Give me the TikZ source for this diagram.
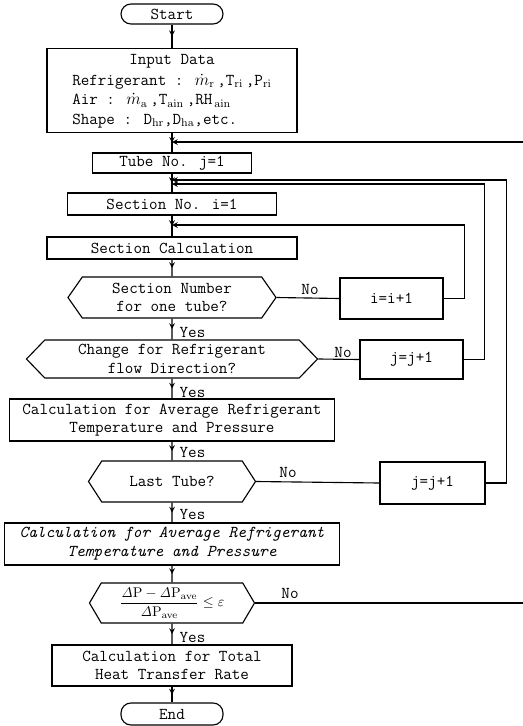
\documentclass[tikz,border=0pt]{standalone}
\usetikzlibrary{shapes.symbols, arrows, decorations.markings}

\begin{document}
\begin{tikzpicture}[x=0.025cm, y=-0.025cm, font=\fontsize{11.8}{13.3}\selectfont\ttfamily]
    \tikzstyle{block} = [rectangle, draw, line width=0.8pt, inner sep=2pt, align=center]
    \tikzstyle{decision} = [signal, signal to=west and east, draw, line width=0.8pt, inner sep=1pt, align=center]
    \tikzstyle{terminal} = [rectangle, rounded corners=0.25cm, draw, line width=0.8pt, minimum width=2.55cm, minimum height=0.5cm, inner sep=1pt]
    \tikzstyle{flow} = [line width=0.8pt, postaction={decorate}, decoration={markings, mark=at position 0.5 with {\arrow{stealth}}}]
    \tikzstyle{arrow} = [line width=0.8pt, ->, >=stealth]
    \tikzstyle{answer} = [inner sep=1pt]

    \useasboundingbox (0,0) rectangle (522,726);

    \node[terminal] (start) at (172,14) {Start};
    \node[block, minimum width=6.25cm, minimum height=2.025cm] (input) at (172,90.5) {\begin{tabular}{@{}l@{}}
        \multicolumn{1}{c}{Input Data}\\[1.5pt]
        Refrigerant : $\dot{m}_{\mathrm{r}}$\,,T$_{\mathrm{ri}}$\,,P$_{\mathrm{ri}}$\\[0.5pt]
        Air : $\dot{m}_{\mathrm{a}}$\,,T$_{\mathrm{ain}}$\,,RH$_{\,\mathrm{ain}}$\\[0.5pt]
        Shape : D$_{\mathrm{hr}}$,D$_{\mathrm{ha}}$,etc.
      \end{tabular}};
    \node[block, minimum width=3.975cm, minimum height=0.5cm] (tube) at (172,163) {Tube No. j=1};
    \node[block, minimum width=5.225cm, minimum height=0.55cm] (secno) at (172,204) {Section No. i=1};
    \node[block, minimum width=6.25cm, minimum height=0.55cm] (seccalc) at (172,248) {Section Calculation};
    \node[decision, minimum width=5.2cm, minimum height=1.025cm, signal pointer angle=110] (secq) at (172,297.5) {Section Number\\for one tube?};
    \node[block, minimum width=2.575cm, minimum height=1.025cm] (inext) at (391.5,298.5) {i=i+1};
    \node[decision, minimum width=7.275cm, minimum height=0.95cm, signal pointer angle=92] (dirq) at (172,359) {Change for Refrigerant\\flow Direction?};
    \node[block, minimum width=2.575cm, minimum height=0.975cm] (jnexta) at (411.5,359.5) {j=j+1};
    \node[block, minimum width=8.125cm, minimum height=1.05cm] (avga) at (172,420) {Calculation for Average Refrigerant\\Temperature and Pressure};
    \node[decision, minimum width=4.175cm, minimum height=1.025cm, signal pointer angle=114] (lastq) at (172,481.5) {Last Tube?};
    \node[block, minimum width=2.625cm, minimum height=1.05cm] (jnextb) at (432.5,483) {j=j+1};
    \node[block, minimum width=8.375cm, minimum height=1.05cm, font=\fontsize{11.8}{13.3}\selectfont\ttfamily\itshape] (avgb) at (172,544) {Calculation for Average Refrigerant\\Temperature and Pressure};
    \node[decision, minimum width=4.125cm, minimum height=1.0cm, signal pointer angle=119, inner sep=0pt] (conv) at (172,603) {\fontsize{10}{12}\selectfont$\displaystyle\frac{\mathit{\Delta}\mathrm{P}-\mathit{\Delta}\mathrm{P}_{\mathrm{ave}}}{\mathit{\Delta}\mathrm{P}_{\mathrm{ave}}}\leq\varepsilon$};
    \node[block, minimum width=6.0cm, minimum height=1.025cm] (total) at (172,665.5) {Calculation for Total\\Heat Transfer Rate};
    \node[terminal, minimum height=0.55cm] (end) at (172,714) {End};

    \coordinate (tubein) at (172,142);
    \coordinate (secina) at (172,180);
    \coordinate (secinb) at (172,184);
    \coordinate (calcin) at (172,225);
    \coordinate (rim) at (525,142);

    \draw[flow] (start) -- (input);
    \draw[flow] (input) -- (tube);
    \draw[flow] (tube) -- (secno);
    \draw[flow] (secno) -- (seccalc);
    \draw[flow] (seccalc) -- (secq);
    \draw[flow] (secq) -- (dirq);
    \draw[flow] (dirq) -- (avga);
    \draw[flow] (avga) -- (lastq);
    \draw[flow] (lastq) -- (avgb);
    \draw[flow] (avgb) -- (conv);
    \draw[flow] (conv) -- (total);
    \draw[flow] (total) -- (end);

    \draw[line width=0.8pt] (secq.east) -- (inext.west);
    \draw[line width=0.8pt] (dirq.east) -- (jnexta.west);
    \draw[line width=0.8pt] (lastq.east) -- (jnextb.west);

    \draw[arrow] (inext.east) -- ++(21,0) |- (calcin);
    \draw[arrow] (jnexta.east) -- ++(21,0) |- (secinb);
    \draw[arrow] (jnextb.east) -- ++(21,0) |- (secina);
    \draw[arrow] (conv.east) -| (rim) -- (tubein);

    \node[answer, anchor=west] (yesa) at (178,332) {Yes};
    \node[answer, anchor=west] (yesb) at (178,392) {Yes};
    \node[answer, anchor=west] (yesc) at (178,452) {Yes};
    \node[answer, anchor=west] (yesd) at (178,514) {Yes};
    \node[answer, anchor=west] (yese) at (178,637) {Yes};
    \node[answer] (noa) at (310,289) {No};
    \node[answer] (nob) at (343,352) {No};
    \node[answer] (noc) at (288,472) {No};
    \node[answer] (nod) at (290,593) {No};
\end{tikzpicture}
\end{document}
